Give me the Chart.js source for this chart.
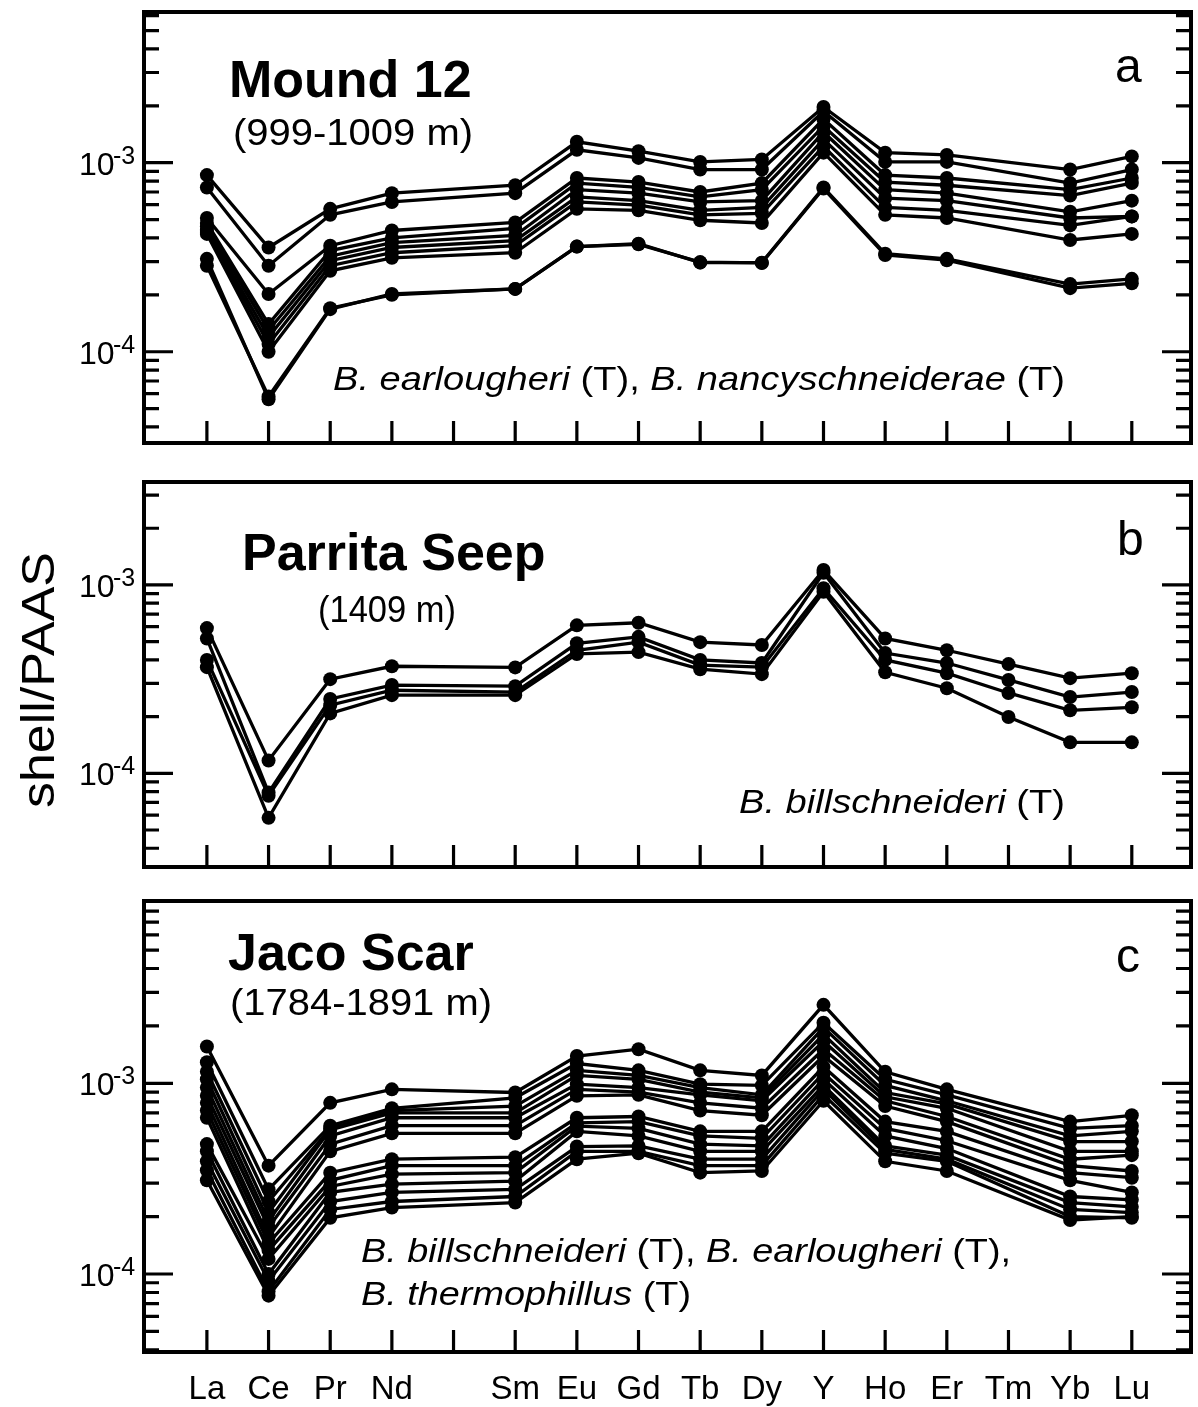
<!DOCTYPE html>
<html><head><meta charset="utf-8">
<script src="https://cdn.jsdelivr.net/npm/chart.js@4.4.1/dist/chart.umd.min.js"></script>
<style>
html,body{margin:0;padding:0;background:#fff;}
#wrap{position:relative;width:1198px;height:1407px;overflow:hidden;background:#fff;}
canvas{position:absolute;left:0;}
</style></head><body>
<div id="wrap">
<canvas id="ca" width="1198" height="460" style="top:0px;width:1198px;height:460px"></canvas>
<canvas id="cb" width="1198" height="420" style="top:460px;width:1198px;height:420px"></canvas>
<canvas id="cc" width="1198" height="527" style="top:880px;width:1198px;height:527px"></canvas>
</div>
<script>
// ---------- DATA ----------
const elements = ['La','Ce','Pr','Nd','Pm','Sm','Eu','Gd','Tb','Dy','Y','Ho','Er','Tm','Yb','Lu'];
const tickLabels = ['La','Ce','Pr','Nd','','Sm','Eu','Gd','Tb','Dy','Y','Ho','Er','Tm','Yb','Lu'];

// Panel a: Mound 12 (no Pm, no Tm)
const mound1  = [8.6e-4, 3.56e-4, 5.7e-4, 6.9e-4, null, 7.6e-4, 1.29e-3, 1.15e-3, 1.01e-3, 1.04e-3, 1.97e-3, 1.13e-3, 1.10e-3, null, 9.2e-4, 1.08e-3];
const mound2  = [7.4e-4, 2.85e-4, 5.3e-4, 6.2e-4, null, 6.9e-4, 1.17e-3, 1.06e-3, 9.2e-4, 9.2e-4, 1.87e-3, 1.01e-3, 1.01e-3, null, 7.8e-4, 9.2e-4];
const mound3  = [5.1e-4, 2.02e-4, 3.64e-4, 4.38e-4, null, 4.83e-4, 8.3e-4, 7.9e-4, 7.0e-4, 7.8e-4, 1.70e-3, 8.6e-4, 8.3e-4, null, 7.2e-4, 8.3e-4];
const mound4  = [4.8e-4, 1.40e-4, 3.43e-4, 4.0e-4, null, 4.49e-4, 7.8e-4, 7.4e-4, 6.6e-4, 7.2e-4, 1.56e-3, 7.9e-4, 7.6e-4, null, 6.7e-4, 7.8e-4];
const mound5  = [4.6e-4, 1.30e-4, 3.2e-4, 3.78e-4, null, 4.12e-4, 7.2e-4, 6.9e-4, 6.2e-4, 6.3e-4, 1.45e-3, 7.2e-4, 6.9e-4, null, 5.5e-4, 6.3e-4];
const mound6  = [4.4e-4, 1.20e-4, 3.03e-4, 3.56e-4, null, 3.87e-4, 6.6e-4, 6.3e-4, 5.6e-4, 5.8e-4, 1.33e-3, 6.5e-4, 6.3e-4, null, 5.1e-4, 5.2e-4];
const mound7  = [4.3e-4, 1.10e-4, 2.85e-4, 3.34e-4, null, 3.64e-4, 6.2e-4, 5.96e-4, 5.3e-4, 5.4e-4, 1.22e-3, 5.8e-4, 5.6e-4, null, 4.66e-4, 5.2e-4];
const mound8  = [4.2e-4, 1.00e-4, 2.68e-4, 3.14e-4, null, 3.34e-4, 5.7e-4, 5.6e-4, 4.96e-4, 4.8e-4, 1.13e-3, 5.3e-4, 5.1e-4, null, 3.9e-4, 4.2e-4];
const mound9  = [3.1e-4, 5.6e-5, 1.68e-4, 2.02e-4, null, 2.15e-4, 3.6e-4, 3.73e-4, 2.96e-4, 2.96e-4, 7.4e-4, 3.3e-4, 3.1e-4, null, 2.28e-4, 2.43e-4];
const mound10 = [2.85e-4, 5.8e-5, 1.7e-4, 2.0e-4, null, 2.15e-4, 3.6e-4, 3.7e-4, 2.98e-4, 2.95e-4, 7.3e-4, 3.25e-4, 3.05e-4, null, 2.17e-4, 2.3e-4];

// Panel b: Parrita Seep
const parrita1 = [5.9e-4, 1.17e-4, 3.16e-4, 3.7e-4, null, 3.65e-4, 6.1e-4, 6.3e-4, 4.97e-4, 4.8e-4, 1.20e-3, 5.2e-4, 4.5e-4, 3.8e-4, 3.2e-4, 3.4e-4];
const parrita2 = [5.2e-4, 7.9e-5, 2.48e-4, 2.94e-4, null, 2.9e-4, 4.9e-4, 5.3e-4, 4.0e-4, 3.85e-4, 1.16e-3, 4.35e-4, 3.85e-4, 3.13e-4, 2.54e-4, 2.7e-4];
const parrita3 = [4.0e-4, 7.6e-5, 2.3e-4, 2.76e-4, null, 2.7e-4, 4.5e-4, 4.97e-4, 3.75e-4, 3.66e-4, 9.6e-4, 4.0e-4, 3.4e-4, 2.67e-4, 2.16e-4, 2.24e-4];
const parrita4 = [3.66e-4, 5.8e-5, 2.08e-4, 2.6e-4, null, 2.6e-4, 4.3e-4, 4.4e-4, 3.57e-4, 3.36e-4, 9.2e-4, 3.44e-4, 2.83e-4, 1.99e-4, 1.46e-4, 1.46e-4];

// Panel c: Jaco Scar (no Pm, no Tm)
const jaco1  = [1.56e-3, 3.7e-4, 7.9e-4, 9.3e-4, null, 8.95e-4, 1.39e-3, 1.51e-3, 1.17e-3, 1.10e-3, 2.58e-3, 1.15e-3, 9.3e-4, null, 6.3e-4, 6.8e-4];
const jaco2  = [1.29e-3, 2.78e-4, 6.0e-4, 7.4e-4, null, 8.4e-4, 1.27e-3, 1.17e-3, 9.9e-4, 9.75e-4, 2.08e-3, 1.05e-3, 8.7e-4, null, 5.8e-4, 6.0e-4];
const jaco3  = [1.15e-3, 2.4e-4, 5.8e-4, 7.2e-4, null, 7.6e-4, 1.17e-3, 1.10e-3, 9.5e-4, 8.7e-4, 1.96e-3, 9.75e-4, 8.1e-4, null, 5.3e-4, 5.6e-4];
const jaco4  = [1.05e-3, 2.1e-4, 5.7e-4, 7.0e-4, null, 7.0e-4, 1.10e-3, 1.05e-3, 9.0e-4, 8.4e-4, 1.80e-3, 8.95e-4, 7.8e-4, null, 4.95e-4, 4.95e-4];
const jaco5  = [9.5e-4, 1.9e-4, 5.3e-4, 6.6e-4, null, 6.6e-4, 9.9e-4, 9.5e-4, 8.7e-4, 8.1e-4, 1.66e-3, 8.5e-4, 7.4e-4, null, 4.4e-4, 4.4e-4];
const jaco6  = [8.6e-4, 1.76e-4, 4.8e-4, 6.0e-4, null, 6.0e-4, 9.3e-4, 9.0e-4, 7.9e-4, 7.4e-4, 1.51e-3, 8.1e-4, 6.7e-4, null, 4.0e-4, 4.2e-4];
const jaco7  = [7.9e-4, 1.56e-4, 4.4e-4, 5.47e-4, null, 5.47e-4, 8.6e-4, 8.7e-4, 7.2e-4, 6.8e-4, 1.39e-3, 7.6e-4, 6.3e-4, null, 3.7e-4, 3.47e-4];
const jaco8  = [7.2e-4, 1.45e-4, 3.4e-4, 4.0e-4, null, 4.1e-4, 6.6e-4, 6.7e-4, 5.6e-4, 5.6e-4, 1.22e-3, 6.3e-4, 5.6e-4, null, 3.4e-4, 3.2e-4];
const jaco9  = [6.6e-4, 1.33e-4, 3.1e-4, 3.7e-4, null, 3.7e-4, 6.2e-4, 6.3e-4, 5.3e-4, 5.15e-4, 1.13e-3, 5.8e-4, 5.0e-4, null, 3.1e-4, 2.68e-4];
const jaco10 = [4.8e-4, 1.2e-4, 2.88e-4, 3.34e-4, null, 3.4e-4, 5.96e-4, 5.8e-4, 4.8e-4, 4.7e-4, 1.05e-3, 5.3e-4, 4.55e-4, null, 2.55e-4, 2.45e-4];
const jaco11 = [4.4e-4, 1.0e-4, 2.68e-4, 2.96e-4, null, 3.07e-4, 5.6e-4, 5.3e-4, 4.4e-4, 4.4e-4, 9.75e-4, 4.7e-4, 4.2e-4, null, 2.37e-4, 2.25e-4];
const jaco12 = [3.9e-4, 9.2e-5, 2.4e-4, 2.68e-4, null, 2.78e-4, 4.66e-4, 4.7e-4, 4.0e-4, 4.0e-4, 9.3e-4, 4.5e-4, 4.0e-4, null, 2.18e-4, 2.1e-4];
const jaco13 = [3.5e-4, 8.1e-5, 2.18e-4, 2.4e-4, null, 2.55e-4, 4.4e-4, 4.4e-4, 3.7e-4, 3.7e-4, 8.7e-4, 4.3e-4, 3.9e-4, null, 2.0e-4, 1.97e-4];
const jaco14 = [3.1e-4, 7.7e-5, 1.97e-4, 2.23e-4, null, 2.37e-4, 4.0e-4, 4.3e-4, 3.4e-4, 3.47e-4, 8.1e-4, 3.9e-4, 3.47e-4, null, 1.92e-4, 2.0e-4];

const moundSeries  = [mound1, mound2, mound3, mound4, mound5, mound6, mound7, mound8, mound9, mound10];
const parritaSeries = [parrita1, parrita2, parrita3, parrita4];
const jacoSeries   = [jaco1, jaco2, jaco3, jaco4, jaco5, jaco6, jaco7, jaco8, jaco9, jaco10, jaco11, jaco12, jaco13, jaco14];

// ---------- DRAWING ----------
const FONT = '"Liberation Sans", Arial, Helvetica, sans-serif';

function drawFitted(ctx, segs, x, y, targetW) {
  let total = 0;
  for (const s of segs) { ctx.font = s.font; s.w = ctx.measureText(s.t).width; total += s.w; }
  const k = targetW ? targetW / total : 1;
  ctx.save();
  ctx.translate(x, y); ctx.scale(k, 1);
  ctx.textAlign = 'left'; ctx.textBaseline = 'alphabetic'; ctx.fillStyle = '#000';
  let cx = 0;
  for (const s of segs) { ctx.font = s.font; ctx.fillText(s.t, cx, 0); cx += s.w; }
  ctx.restore();
}

function toPoints(arr) {
  const pts = [];
  arr.forEach((v, i) => { if (v !== null) pts.push({x: i, y: v}); });
  return pts;
}

function makePlugin(id, offsetTop, texts, showXLabels, extra) {
  return {
    id: 'frame_' + id,
    afterDraw(chart) {
      const ctx = chart.ctx, a = chart.chartArea, xs = chart.scales.x, ys = chart.scales.y;
      ctx.save();
      ctx.strokeStyle = '#000'; ctx.fillStyle = '#000'; ctx.lineWidth = 3.2; ctx.lineCap = 'butt';
      const lo = Math.floor(Math.log10(ys.min)), hi = Math.ceil(Math.log10(ys.max));
      ctx.beginPath();
      for (let d = lo; d <= hi; d++) {
        for (let m = 1; m <= 9; m++) {
          const v = m * Math.pow(10, d);
          if (v < ys.min || v > ys.max) continue;
          const py = ys.getPixelForValue(v);
          const len = m === 1 ? 29 : 15;
          ctx.moveTo(a.left, py); ctx.lineTo(a.left + len, py);
          ctx.moveTo(a.right, py); ctx.lineTo(a.right - len, py);
        }
      }
      for (let i = 0; i < elements.length; i++) {
        const px = xs.getPixelForValue(i);
        ctx.moveTo(px, a.bottom); ctx.lineTo(px, a.bottom - 22);
      }
      ctx.stroke();
      ctx.lineWidth = 4;
      ctx.strokeRect(a.left, a.top, a.right - a.left, a.bottom - a.top);
      // y labels (10 with superscript exponent)
      for (let d = lo; d <= hi; d++) {
        const v = Math.pow(10, d);
        if (v < ys.min || v > ys.max) continue;
        const py = ys.getPixelForValue(v);
        ctx.textAlign = 'left'; ctx.textBaseline = 'alphabetic';
        ctx.font = '32px ' + FONT;
        ctx.fillText('10', 79, py + 12);
        ctx.font = '25px ' + FONT;
        ctx.fillText(String(d), 113, py + 1);
      }
      if (showXLabels) {
        ctx.font = '33px ' + FONT; ctx.textAlign = 'center'; ctx.textBaseline = 'alphabetic';
        for (let i = 0; i < tickLabels.length; i++) {
          if (!tickLabels[i]) continue;
          ctx.fillText(tickLabels[i], xs.getPixelForValue(i), 1399 - offsetTop);
        }
      }
      for (const t of texts) drawFitted(ctx, t.segs, t.x, t.y - offsetTop, t.w);
      if (extra) extra(ctx, offsetTop);
      ctx.restore();
    }
  };
}

const BOLD = 'bold 52px ' + FONT;
const SUB = '36px ' + FONT;
const IT = 'italic 34px ' + FONT;
const REG = '34px ' + FONT;
const LET = '48px ' + FONT;

function buildChart(canvasId, series, yMin, yMax, pad, offsetTop, texts, showX, extra) {
  const datasets = series.map((s, i) => ({
    label: 's' + i,
    data: toPoints(s),
    borderColor: '#000',
    backgroundColor: '#000',
    borderWidth: 3.3,
    pointRadius: 7,
    pointBorderWidth: 0,
    pointBackgroundColor: '#000',
    tension: 0,
    clip: false
  }));
  return new Chart(document.getElementById(canvasId), {
    type: 'line',
    data: { datasets },
    options: {
      responsive: false,
      animation: false,
      events: [],
      layout: { padding: pad },
      plugins: { legend: { display: false }, tooltip: { enabled: false }, title: { display: false } },
      scales: {
        x: { type: 'linear', min: -1.02, max: 15.96, display: false },
        y: { type: 'logarithmic', min: yMin, max: yMax, display: false }
      }
    },
    plugins: [makePlugin(canvasId, offsetTop, texts, showX, extra)]
  });
}

// Panel a
buildChart('ca', moundSeries, 3.29e-5, 6.27e-3,
  { left: 144, right: 6, top: 12, bottom: 17 }, 0,
  [
    { segs: [{ t: 'Mound 12', font: BOLD }], x: 229, y: 97, w: 0 },
    { segs: [{ t: '(999-1009 m)', font: SUB }], x: 233, y: 145, w: 240 },
    { segs: [{ t: 'a', font: LET }], x: 1115, y: 82, w: 0 },
    { segs: [{ t: 'B. earlougheri', font: IT }, { t: ' (T), ', font: REG }, { t: 'B. nancyschneiderae', font: IT }, { t: ' (T)', font: REG }], x: 333, y: 390, w: 732 }
  ], false, null);

// Panel b
buildChart('cb', parritaSeries, 3.18e-5, 3.52e-3,
  { left: 144, right: 6, top: 22, bottom: 13 }, 460,
  [
    { segs: [{ t: 'Parrita Seep', font: BOLD }], x: 242, y: 570, w: 0 },
    { segs: [{ t: '(1409 m)', font: SUB }], x: 318, y: 622, w: 138 },
    { segs: [{ t: 'b', font: LET }], x: 1117, y: 555, w: 0 },
    { segs: [{ t: 'B. billschneideri', font: IT }, { t: ' (T)', font: REG }], x: 739, y: 813, w: 326 }
  ], false,
  (ctx, off) => {
    ctx.save();
    ctx.translate(54, 680 - off);
    ctx.rotate(-Math.PI / 2);
    ctx.font = '46px ' + FONT;
    const w = ctx.measureText('shell/PAAS').width;
    ctx.scale(256 / w, 1);
    ctx.textAlign = 'center'; ctx.textBaseline = 'alphabetic'; ctx.fillStyle = '#000';
    ctx.fillText('shell/PAAS', 0, 0);
    ctx.restore();
  });

// Panel c
buildChart('cc', jacoSeries, 3.9e-5, 9.04e-3,
  { left: 144, right: 6, top: 21, bottom: 55 }, 880,
  [
    { segs: [{ t: 'Jaco Scar', font: BOLD }], x: 228, y: 970, w: 0 },
    { segs: [{ t: '(1784-1891 m)', font: SUB }], x: 230, y: 1015, w: 262 },
    { segs: [{ t: 'c', font: LET }], x: 1116, y: 972, w: 0 },
    { segs: [{ t: 'B. billschneideri', font: IT }, { t: ' (T), ', font: REG }, { t: 'B. earlougheri', font: IT }, { t: ' (T),', font: REG }], x: 361, y: 1262, w: 650 },
    { segs: [{ t: 'B. thermophillus', font: IT }, { t: ' (T)', font: REG }], x: 361, y: 1305, w: 330 }
  ], true, null);
</script>
</body></html>
